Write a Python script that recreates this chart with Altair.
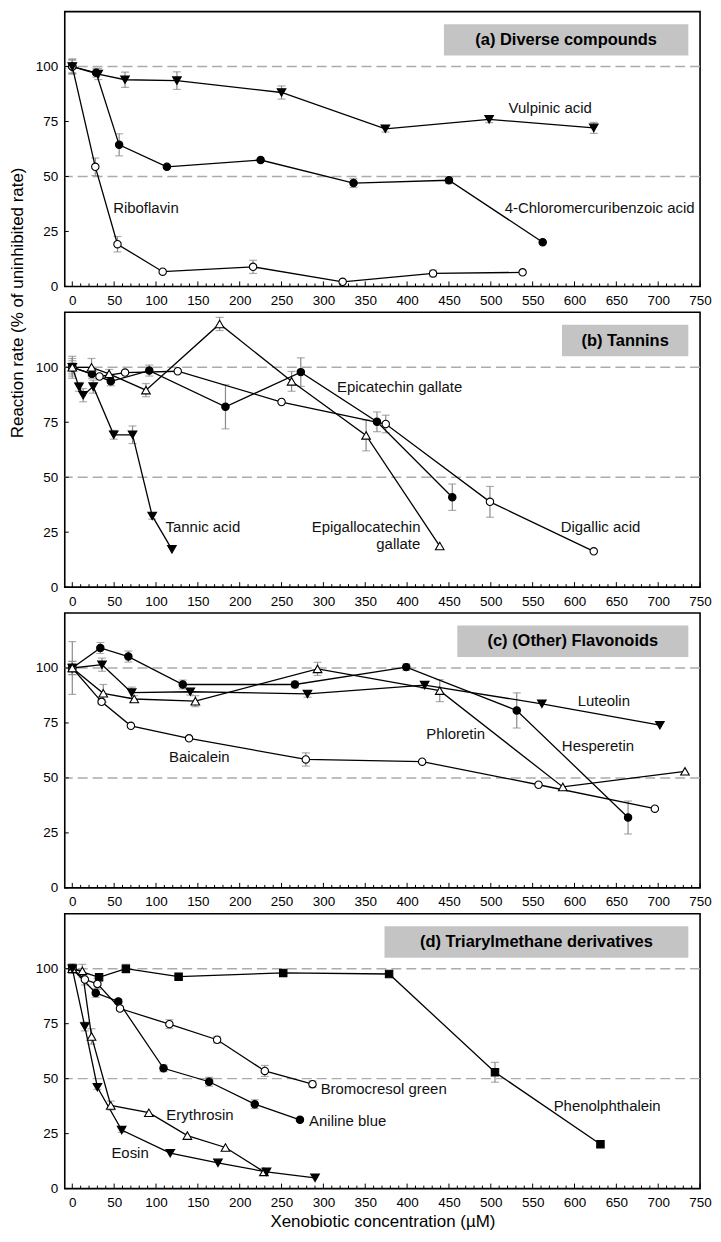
import altair as alt
import pandas as pd

FONT = "Liberation Sans"
W, H = 638, 276
XDOM = [-9, 750]
YDOM = [0, 125]

# ---------------- data ----------------
# (a) Diverse compounds
vulpinic_x = [0, 31, 63, 125, 250, 374, 498, 623]
vulpinic_y = [100, 96.6, 94.0, 93.6, 88.2, 71.7, 76.0, 72.1]
vulpinic_e = [3.5, 2.5, 3.5, 4, 3, 1.5, 1.5, 2.5]

chloro_x = [0, 28.5, 56, 113, 225, 336, 450, 562]
chloro_y = [100, 97.2, 64.4, 54.4, 57.5, 47, 48.3, 20.1]
chloro_e = [3, 2, 5, 0, 0, 2, 1.5, 0]

ribo_x = [0, 27.5, 54, 108, 216, 323, 431, 538]
ribo_y = [100, 54.4, 19.2, 6.7, 8.9, 2.1, 5.9, 6.4]
ribo_e = [3, 4, 3.5, 0, 3, 0, 1.5, 0]

# (b) Tannins
tannic_x = [0, 8, 13, 25, 49.5, 72, 95.5, 119]
tannic_y = [100, 91.1, 87.3, 91.2, 69.3, 69.3, 32.4, 17.2]
tannic_e = [4, 2, 3, 3, 2, 4, 1.5, 0]

ecg_x = [0, 23.5, 46, 92, 183, 273, 364, 454]
ecg_y = [100, 97, 93.6, 98.5, 82, 97.8, 75.2, 40.9]
ecg_e = [2, 2, 2, 2.5, 10, 6.5, 4.5, 6]

egcg_x = [0, 23, 44, 88, 176, 262, 351, 439]
egcg_y = [100, 100, 97, 89.6, 119.7, 93.6, 69, 18.7]
egcg_e = [3, 4, 2, 3, 3, 4.5, 7, 0]

digallic_x = [0, 32.5, 63, 126, 250, 374.5, 499, 623]
digallic_y = [100, 95.8, 97.6, 98.2, 84.2, 74.2, 38.8, 16.3]
digallic_e = [5, 0, 0, 0, 0, 4, 7, 0]

# (c) (Other) Flavonoids
hesp_x = [0, 33.5, 67, 132, 266, 399, 531, 664]
hesp_y = [100, 109.1, 105.2, 92.5, 92.5, 100.4, 80.7, 32]
hesp_e = [3, 2.5, 2.5, 2, 1.5, 1.5, 8, 7.5]

lut_x = [0, 35.5, 71, 141, 281, 421, 561, 702]
lut_y = [100, 101.5, 88.8, 89.2, 88.2, 92.2, 83.7, 74]
lut_e = [2, 3, 2.5, 1.5, 1.5, 1.5, 0, 0]

phlor_x = [0, 37, 74, 147, 293, 439, 586, 732]
phlor_y = [100, 88.5, 85.9, 84.9, 99.6, 89.7, 45.9, 53]
phlor_e = [12, 4, 1.5, 2.5, 3, 5, 0, 0]

baic_x = [0, 35, 70, 139.5, 279, 418, 557, 696]
baic_y = [100, 84.6, 73.7, 68, 58.4, 57.4, 46.9, 36]
baic_e = [3, 1, 0, 0, 3, 0, 0, 0]

# (d) Triarylmethane derivatives
phen_x = [0, 32, 64, 127, 252, 378.5, 505, 631]
phen_y = [100, 96.1, 100, 96.4, 98.1, 97.6, 52.9, 20.2]
phen_e = [2, 1.5, 2, 1, 1, 1, 4.5, 1.5]

anil_x = [0, 28, 55, 109, 163.5, 218, 272]
anil_y = [100, 89, 85.1, 54.7, 48.6, 38.4, 31.3]
anil_e = [2, 2, 1, 1.5, 2, 2, 0]

brom_x = [0, 15, 30, 57, 116, 173, 230, 287]
brom_y = [100, 95.1, 93.1, 81.9, 74.8, 67.7, 53.5, 47.5]
brom_e = [2, 2.5, 2.5, 1, 2, 1.5, 2.5, 1.5]

eryth_x = [0, 12, 23, 46, 91.5, 137.5, 183, 229]
eryth_y = [100, 99, 69.2, 37.8, 34.5, 24.1, 18.7, 7.6]
eryth_e = [2, 3, 3.5, 2, 0, 0, 0, 1.5]

eosin_x = [0, 15, 30, 59, 117, 174, 232, 290]
eosin_y = [100, 73.7, 46.1, 26.6, 16.1, 11.7, 7.6, 4.9]
eosin_e = [2, 2, 1, 1, 0, 0, 0, 0]

SERIES = [
    ("a", "Vulpinic acid", vulpinic_x, vulpinic_y, vulpinic_e),
    ("a", "4-Chloromercuribenzoic acid", chloro_x, chloro_y, chloro_e),
    ("a", "Riboflavin", ribo_x, ribo_y, ribo_e),
    ("b", "Tannic acid", tannic_x, tannic_y, tannic_e),
    ("b", "Epicatechin gallate", ecg_x, ecg_y, ecg_e),
    ("b", "Epigallocatechin gallate", egcg_x, egcg_y, egcg_e),
    ("b", "Digallic acid", digallic_x, digallic_y, digallic_e),
    ("c", "Hesperetin", hesp_x, hesp_y, hesp_e),
    ("c", "Luteolin", lut_x, lut_y, lut_e),
    ("c", "Phloretin", phlor_x, phlor_y, phlor_e),
    ("c", "Baicalein", baic_x, baic_y, baic_e),
    ("d", "Phenolphthalein", phen_x, phen_y, phen_e),
    ("d", "Aniline blue", anil_x, anil_y, anil_e),
    ("d", "Bromocresol green", brom_x, brom_y, brom_e),
    ("d", "Erythrosin", eryth_x, eryth_y, eryth_e),
    ("d", "Eosin", eosin_x, eosin_y, eosin_e),
]

# marker styles per series
NAMES = [s[1] for s in SERIES]
SHAPES = ["triangle-down", "circle", "circle",
          "triangle-down", "circle", "triangle-up", "circle",
          "circle", "triangle-down", "triangle-up", "circle",
          "square", "circle", "circle", "triangle-up", "triangle-down"]
FILLS = ["black", "black", "white",
         "black", "black", "white", "white",
         "black", "black", "white", "white",
         "black", "black", "white", "white", "black"]
TRIANGLES = [n for n, s in zip(NAMES, SHAPES) if s.startswith("triangle")]

# curve labels (text, x, y)
LABELS = {
    "a": [("Riboflavin", 88, 35.5), ("Vulpinic acid", 571, 81.2),
          ("4-Chloromercuribenzoic acid", 630, 35.5)],
    "b": [("Tannic acid", 156, 27.2), ("Epicatechin gallate", 391, 91),
          ("Epigallocatechin", 351, 27.2), ("gallate", 389.5, 19.7),
          ("Digallic acid", 631, 27.2)],
    "c": [("Luteolin", 635, 84.8), ("Phloretin", 458, 70.1),
          ("Hesperetin", 628, 64.6), ("Baicalein", 151.7, 59.6)],
    "d": [("Bromocresol green", 372, 45.3), ("Aniline blue", 329, 30.6),
          ("Phenolphthalein", 639, 37.5), ("Erythrosin", 152.5, 33.6),
          ("Eosin", 69, 16.1)],
}

# panel titles with grey box extents (data units)
PANEL_TITLES = {"a": "(a) Diverse compounds", "b": "(b) Tannins",
                "c": "(c) (Other) Flavonoids", "d": "(d) Triarylmethane derivatives"}
BOX_LEFT = {"a": 444, "b": 585, "c": 460, "d": 373}
BOX_RIGHT = 736
BOX_BOTTOM, BOX_TOP = 105, 119.3

REF_LINES = [50, 100]
X_TICKS = list(range(0, 751, 50))
X_MINOR = [v for v in range(0, 751, 10) if v % 50]
Y_TICKS = [0, 25, 50, 75, 100]

rows = []
for p, name, xs, ys, es in SERIES:
    for x, y, e in zip(xs, ys, es):
        rows.append({"panel": p, "series": name, "x": x, "y": y, "e": e,
                     "lo": y - e, "hi": y + e})
DF = pd.DataFrame(rows)

xscale = alt.Scale(domain=XDOM, nice=False, zero=False)
yscale = alt.Scale(domain=YDOM, nice=False, zero=False)


def make_panel(key, xtitle=False, ytitle=False):
    xaxis_kw = dict(values=X_TICKS, ticks=False, domain=False, grid=False,
                    labelFlush=False, labelOverlap=False, labelPadding=7,
                    labelFontSize=13.5, titleFontSize=17, titleFontWeight="normal",
                    titlePadding=5)
    yaxis_kw = dict(values=Y_TICKS, ticks=False, domain=False, grid=False,
                    labelFlush=False, labelOverlap=False, labelPadding=7,
                    labelFontSize=13.5, titleFontSize=17, titleFontWeight="normal")
    if ytitle:
        yaxis_kw.update(titleX=-38, titleY=292, titleAngle=270,
                        titleAlign="center", titleBaseline="bottom")
    xaxis = alt.Axis(**xaxis_kw)
    yaxis = alt.Axis(**yaxis_kw)
    xt = "Xenobiotic concentration (µM)" if xtitle else None
    yt = "Reaction rate (% of uninhibited rate)" if ytitle else None

    def X(f):
        return alt.X(f, type="quantitative", scale=xscale, axis=xaxis, title=xt)

    def Y(f):
        return alt.Y(f, type="quantitative", scale=yscale, axis=yaxis, title=yt)

    d = DF[DF.panel == key]
    err = d[d.e > 0]

    ref = alt.Chart(pd.DataFrame({"v": REF_LINES})).mark_rule(
        color="#ababab", strokeDash=[10, 5], strokeWidth=1.4).encode(y=Y("v"))

    box_df = pd.DataFrame({"x1": [BOX_LEFT[key]], "x2": [BOX_RIGHT],
                           "y1": [BOX_BOTTOM], "y2": [BOX_TOP],
                           "xc": [(BOX_LEFT[key] + BOX_RIGHT) / 2],
                           "yc": [(BOX_BOTTOM + BOX_TOP) / 2],
                           "t": [PANEL_TITLES[key]]})
    box = alt.Chart(box_df).mark_rect(color="#c4c4c4").encode(
        x=X("x1"), x2="x2", y=Y("y1"), y2="y2")
    box_text = alt.Chart(box_df).mark_text(
        font=FONT, fontSize=16.5, fontWeight="bold", color="black",
        baseline="middle").encode(x=X("xc"), y=Y("yc"), text="t:N")

    ebar = alt.Chart(err).mark_rule(color="#8a8a8a", strokeWidth=1.2).encode(
        x=X("x"), y=Y("lo"), y2="hi")
    cap_lo = alt.Chart(err).mark_tick(color="#8a8a8a", orient="horizontal",
                                      size=8, thickness=1.2).encode(x=X("x"), y=Y("lo"))
    cap_hi = alt.Chart(err).mark_tick(color="#8a8a8a", orient="horizontal",
                                      size=8, thickness=1.2).encode(x=X("x"), y=Y("hi"))

    lines = alt.Chart(d).mark_line(color="black", strokeWidth=1.3).encode(
        x=X("x"), y=Y("y"), detail="series:N")

    shape_enc = alt.Shape("series:N", scale=alt.Scale(domain=NAMES, range=SHAPES), legend=None)
    fill_enc = alt.Fill("series:N", scale=alt.Scale(domain=NAMES, range=FILLS), legend=None)
    pts_other = alt.Chart(d).transform_filter(
        ~alt.FieldOneOfPredicate(field="series", oneOf=TRIANGLES)
    ).mark_point(filled=True, stroke="black", strokeWidth=1.1, size=55, opacity=1).encode(
        x=X("x"), y=Y("y"), shape=shape_enc, fill=fill_enc)
    pts_tri = alt.Chart(d).transform_filter(
        alt.FieldOneOfPredicate(field="series", oneOf=TRIANGLES)
    ).mark_point(filled=True, stroke="black", strokeWidth=1.1, size=75, opacity=1).encode(
        x=X("x"), y=Y("y"), shape=shape_enc, fill=fill_enc)

    lab_df = pd.DataFrame(LABELS[key], columns=["t", "x", "y"])
    labels = alt.Chart(lab_df).mark_text(font=FONT, fontSize=15, color="#111111",
                                         baseline="middle").encode(
        x=X("x"), y=Y("y"), text="t:N")

    xmaj = alt.Chart(pd.DataFrame({"t": X_TICKS})).mark_rule(
        color="black", strokeWidth=1).encode(x=X("t"), y=alt.value(H), y2=alt.value(H - 5))
    xmin = alt.Chart(pd.DataFrame({"t": X_MINOR})).mark_rule(
        color="black", strokeWidth=1).encode(x=X("t"), y=alt.value(H), y2=alt.value(H - 3))
    ytk = alt.Chart(pd.DataFrame({"t": Y_TICKS})).mark_rule(
        color="black", strokeWidth=1).encode(y=Y("t"), x=alt.value(0), x2=alt.value(4))

    return alt.layer(ref, box, box_text, ebar, cap_lo, cap_hi, lines,
                     pts_other, pts_tri, labels, xmaj, xmin, ytk).properties(
        width=W, height=H)


chart = alt.vconcat(
    make_panel("a", ytitle=True),
    make_panel("b"),
    make_panel("c"),
    make_panel("d", xtitle=True),
    spacing=26, bounds="flush",
).properties(
    padding={"top": 0, "left": 0, "right": 0, "bottom": 0}
).configure(font=FONT).configure_view(
    stroke="black", strokeWidth=1.6
).configure_axis(labelFont=FONT, titleFont=FONT, labelColor="black", titleColor="black")

chart.save("out.html", embed_options={"renderer": "svg", "actions": False})
